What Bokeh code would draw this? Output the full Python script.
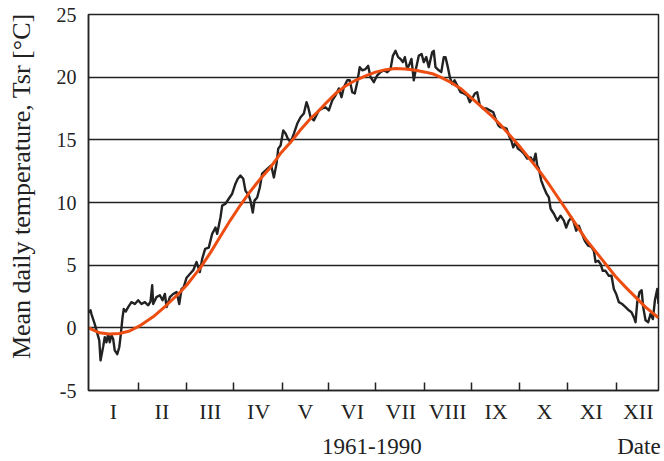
from bokeh.plotting import figure
from bokeh.models import FixedTicker, Range1d
from bokeh.embed import file_html
from bokeh.resources import INLINE

# ---- data (day of year) ----
daily_day = [0, 1.3, 1.9, 4.0, 5.1, 6.9, 7.7, 9.4, 10.4, 11.5, 12.6, 13.6, 14.7, 15.8, 16.8, 18.4, 19.7,
             20.7, 21.8, 22.6, 23.9, 25.4, 27.5, 29.7, 31.8, 33.9, 36.1, 38.2, 39.7, 40.8, 41.4, 43.5,
             45.7, 47.4, 48.9, 50.0, 52.1, 54.2, 56.4, 58.1, 59.6, 61.0, 62.8, 64.9, 67.1, 69.2, 71.3,
             72.8, 74.7, 77.0, 79.2, 81.3, 82.4, 84.5, 85.6, 87.7, 89.8, 92.0, 94.1, 95.6, 97.3, 99.1,
             100.5, 102.7, 103.7, 105.2, 106.3, 108.0, 109.7, 111.2, 113.3, 115.5, 117.0, 118.7, 120.4,
             121.5, 123.0, 124.7, 126.2, 127.6, 129.4, 131.5, 133.7, 135.8, 137.9, 139.6, 140.7, 142.2,
             144.3, 146.5, 147.5, 149.7, 151.8, 153.9, 156.1, 158.2, 160.3, 162.0, 163.5, 165.7, 167.3,
             168.9, 170.5, 172.1, 173.7, 175.3, 177.4, 179.1, 180.6, 182.7, 184.9, 187.0, 189.1, 191.3,
             193.4, 194.9, 196.6, 198.3, 199.8, 201.3, 202.6, 204.1, 205.6, 206.8, 208.3, 209.9, 211.5,
             213.3, 214.7, 216.3, 217.9, 220.1, 221.1, 222.2, 224.3, 225.9, 227.5, 228.6, 230.1, 231.4,
             232.9, 234.4, 236.1, 238.2, 240.3, 242.5, 244.2, 245.7, 247.4, 248.9, 250.6, 252.8, 254.9,
             257.0, 259.2, 260.6, 262.4, 263.8, 265.6, 267.7, 269.2, 270.7, 272.0, 273.5, 274.9, 276.7,
             278.8, 280.9, 283.1, 284.8, 286.3, 287.3, 288.4, 289.9, 291.6, 293.3, 294.8, 295.9, 298.0,
             300.2, 302.3, 304.4, 305.9, 307.6, 309.3, 310.8, 312.3, 314.0, 315.7, 317.8, 320.0, 322.1,
             323.6, 324.7, 326.4, 327.9, 329.3, 331.1, 333.2, 334.9, 336.4, 337.9, 339.6, 341.8, 343.9,
             346.0, 347.7, 349.2, 350.3, 351.4, 352.9, 354.2, 355.2, 356.7, 358.4, 359.9, 361.4, 362.7,
             364.2, 365]
daily_temp = [1.2, 1.4, 1.1, 0.3, -0.2, -1.0, -2.6, -1.5, -0.75, -1.15, -0.5, -1.15, -0.6, -0.9, -1.8, -2.1, -1.55,
              -0.5, 0.85, 1.5, 1.3, 1.65, 2.05, 1.9, 2.2, 1.9, 2.05, 1.8, 2.1, 3.4, 1.9, 2.45,
              2.6, 2.2, 2.7, 1.65, 2.45, 2.7, 2.85, 1.9, 3.1, 3.25, 4.0, 4.3, 4.6, 5.25, 4.45,
              5.5, 6.3, 6.4, 7.5, 8.0, 7.5, 8.8, 9.75, 9.9, 10.3, 10.7, 11.5, 11.9, 12.15, 11.9,
              10.95, 10.55, 10.15, 9.2, 10.15, 10.4, 11.2, 12.3, 12.55, 12.8, 12.95, 12.0, 13.1,
              14.3, 14.55, 15.75, 15.5, 15.1, 14.8, 15.5, 16.3, 16.8, 17.1, 18.0, 17.6, 16.8,
              16.55, 17.1, 17.35, 17.5, 17.6, 17.35, 18.15, 18.55, 19.1, 18.4, 19.2, 19.75, 19.75,
              18.8, 18.7, 19.6, 20.8, 20.55, 20.65, 20.9, 20.0, 19.6, 20.15, 20.4, 20.55, 20.4,
              20.65, 21.7, 22.1, 21.6, 21.45, 21.2, 21.6, 20.65, 21.05, 21.45, 19.75, 20.8, 21.7,
              21.85, 21.2, 21.6, 20.8, 22.0, 22.1, 20.8, 20.55, 20.4, 21.6, 21.6, 20.8, 20.0,
              19.45, 19.75, 19.35, 18.8, 18.7, 18.55, 18.0, 18.3, 18.7, 18.8, 17.75, 17.5, 17.5,
              17.35, 17.2, 16.7, 16.15, 16.0, 16.0, 15.9, 15.35, 14.95, 14.4, 14.8, 14.3, 14.15,
              13.9, 13.5, 13.6, 13.2, 13.9, 12.95, 12.7, 11.75, 11.2, 10.7, 10.4, 9.5, 9.1,
              8.55, 8.95, 8.55, 8.0, 8.55, 8.8, 8.4, 7.75, 8.15, 7.6, 6.95, 6.55, 6.45,
              6.15, 5.25, 5.35, 5.1, 4.55, 4.55, 4.15, 4.15, 3.1, 2.7, 2.05, 1.9, 1.65,
              1.4, 1.25, 0.85, 0.45, 2.05, 2.85, 3.0, 1.65, 0.6, 0.45, 1.1, 0.7, 2.2,
              3.1, 1.9]

fit_day = [0, 7, 13.4, 19.9, 26.3, 32.7, 41.6, 49.9, 58.3, 62.8, 69.2, 71.7, 78.1, 84.5, 90.9, 97.3,
           103.7, 110.1, 116.5, 122.9, 129.4, 135.8, 142.2, 147.3, 151.8, 158.2, 164.6, 171.0, 177.4,
           183.8, 190.2, 196.6, 203.0, 209.4, 215.8, 220.9, 225.4, 231.8, 238.2, 244.6, 251.0, 257.4,
           263.8, 270.2, 276.6, 283.0, 289.4, 294.6, 299.0, 305.5, 311.9, 318.3, 324.7, 331.1, 337.5,
           343.9, 350.3, 356.7, 365]
fit_temp = [0.0, -0.4, -0.5, -0.45, -0.25, 0.15, 0.9, 1.8, 2.8, 3.4, 4.4, 4.8, 6.0, 7.3, 8.6, 9.8,
            10.9, 11.9, 12.8, 13.9, 14.8, 15.8, 16.7, 17.3, 17.9, 18.7, 19.3, 19.75, 20.1,
            20.4, 20.6, 20.7, 20.65, 20.55, 20.4, 20.25, 20.0, 19.6, 19.1, 18.4, 17.7, 17.0,
            16.2, 15.3, 14.4, 13.4, 12.4, 11.5, 10.7, 9.5, 8.3, 7.1, 6.1, 5.1, 4.1,
            3.25, 2.45, 1.65, 0.8]

month_labels = ["I", "II", "III", "IV", "V", "VI", "VII", "VIII", "IX", "X", "XI", "XII"]
month_mid = [16, 47, 78, 109, 139, 169, 200, 230, 261, 292, 322, 352]
month_bounds = [32, 62.5, 93, 124, 153.5, 184, 215, 245.5, 276, 307, 338]
y_ticks = [-5, 0, 5, 10, 15, 20, 25]
y_tick_labels = ["-5", "0", "5", "10", "15", "20", "25"]
grid_vals = [0, 5, 10, 15, 20]
y_title = "Mean daily temperature, Tsr  [°C]"
period_text = "1961-1990"
date_text = "Date"

FONT = "Liberation Serif"
INK = "#222222"
NB = "\u00a0"

p = figure(width=664, height=461, x_range=Range1d(0, 365), y_range=Range1d(-5, 25),
           output_backend="svg", toolbar_location=None,
           min_border_left=88, min_border_right=6, min_border_top=14, min_border_bottom=71)

p.outline_line_color = INK
p.outline_line_width = 1.5
p.background_fill_color = "white"
p.border_fill_color = "white"

p.xgrid.visible = False
p.ygrid.ticker = FixedTicker(ticks=grid_vals)
p.ygrid.grid_line_color = INK
p.ygrid.grid_line_width = 1.6

# y axis
p.yaxis.ticker = FixedTicker(ticks=y_ticks)
p.yaxis.major_label_overrides = {t: s for t, s in zip(y_ticks, y_tick_labels)}
p.yaxis.major_tick_in = 0
p.yaxis.major_tick_out = 0
p.yaxis.minor_tick_line_color = None
p.yaxis.axis_line_color = INK
p.yaxis.axis_line_width = 1.5
p.yaxis.major_label_standoff = 12
p.yaxis.major_label_text_font = FONT
p.yaxis.major_label_text_font_size = "20px"
p.yaxis.major_label_text_color = INK
p.yaxis.axis_label = NB * 6 + y_title
p.yaxis.axis_label_standoff = 18
p.yaxis.axis_label_text_font = FONT
p.yaxis.axis_label_text_font_size = "26px"
p.yaxis.axis_label_text_font_style = "normal"
p.yaxis.axis_label_text_color = INK

# x axis: labels at month centres, minor ticks at month boundaries
p.xaxis.ticker = FixedTicker(ticks=month_mid, minor_ticks=month_bounds)
p.xaxis.major_label_overrides = {m: lab for m, lab in zip(month_mid, month_labels)}
p.xaxis.major_tick_in = 0
p.xaxis.major_tick_out = 0
p.xaxis.minor_tick_in = 8
p.xaxis.minor_tick_out = 0
p.xaxis.minor_tick_line_color = INK
p.xaxis.minor_tick_line_width = 1.5
p.xaxis.axis_line_color = INK
p.xaxis.axis_line_width = 1.5
p.xaxis.major_label_standoff = 8
p.xaxis.major_label_text_font = FONT
p.xaxis.major_label_text_font_size = "22px"
p.xaxis.major_label_text_color = INK
p.xaxis.axis_label = NB * 41 + period_text + NB * 34 + date_text
p.xaxis.axis_label_standoff = 7
p.xaxis.axis_label_text_font = FONT
p.xaxis.axis_label_text_font_size = "23px"
p.xaxis.axis_label_text_font_style = "normal"
p.xaxis.axis_label_text_color = INK

p.line(daily_day, daily_temp, line_color=INK, line_width=2.4, line_join="round")
p.line(fit_day, fit_temp, line_color="#ee4d12", line_width=3)

open("out.html", "w").write(file_html(p, INLINE))
